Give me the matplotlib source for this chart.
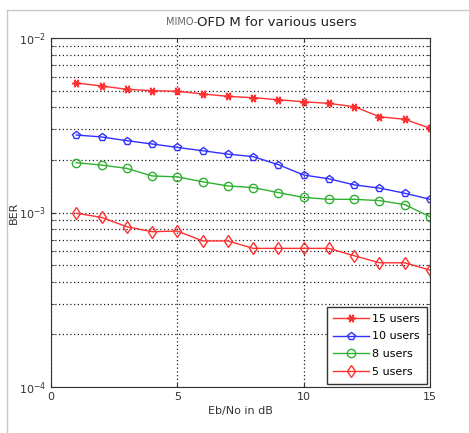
import matplotlib
matplotlib.use("Agg")
import matplotlib.pyplot as plt
from matplotlib.lines import Line2D
from matplotlib.ticker import LogLocator, NullFormatter

snr = [1, 2, 3, 4, 5, 6, 7, 8, 9, 10, 11, 12, 13, 14, 15]
ber_15 = [5.52e-3, 5.31e-3, 5.08e-3, 4.99e-3, 4.95e-3, 4.78e-3, 4.63e-3, 4.55e-3,
          4.43e-3, 4.31e-3, 4.22e-3, 4.04e-3, 3.54e-3, 3.42e-3, 3.04e-3]
ber_10 = [2.78e-3, 2.71e-3, 2.58e-3, 2.47e-3, 2.36e-3, 2.26e-3, 2.16e-3, 2.09e-3,
          1.88e-3, 1.64e-3, 1.56e-3, 1.44e-3, 1.38e-3, 1.29e-3, 1.19e-3]
ber_8 = [1.93e-3, 1.87e-3, 1.79e-3, 1.62e-3, 1.60e-3, 1.50e-3, 1.42e-3, 1.39e-3,
         1.30e-3, 1.22e-3, 1.19e-3, 1.19e-3, 1.17e-3, 1.11e-3, 0.946e-3]
ber_5 = [0.99e-3, 0.938e-3, 0.829e-3, 0.776e-3, 0.783e-3, 0.687e-3, 0.687e-3, 0.623e-3,
         0.623e-3, 0.623e-3, 0.623e-3, 0.565e-3, 0.515e-3, 0.515e-3, 0.468e-3]
labels = ["15 users", "10 users", "8 users", "5 users"]

fig = plt.figure(figsize=(4.69, 4.33), dpi=100)
ax = fig.add_axes([51 / 469, 1 - 387 / 433, 379 / 469, 349 / 433])

# frame around the picture (grey, left/top)
fig.add_artist(Line2D([7 / 469, 7 / 469], [0, 1 - 10 / 433], color="#c8c8c8", lw=1))
fig.add_artist(Line2D([7 / 469, 1], [1 - 10 / 433, 1 - 10 / 433], color="#c8c8c8", lw=1))

ax.semilogy(snr, ber_15, color="#ff3030", marker=(6, 2, 90), ms=6, mew=1.2, lw=1, label=labels[0])
ax.semilogy(snr, ber_10, color="#3030ff", marker="p", ms=5.5, mfc="none", mew=1, lw=1, label=labels[1])
ax.semilogy(snr, ber_8, color="#30b030", marker="o", ms=6, mfc="none", mew=1, lw=1, label=labels[2])
ax.semilogy(snr, ber_5, color="#ff3030", marker="d", ms=6, mfc="none", mew=1, lw=1, label=labels[3])

ax.set_xlim(0, 15)
ax.set_ylim(1e-4, 1e-2)
ax.set_xticks([0, 5, 10, 15])
ax.yaxis.set_major_locator(LogLocator(base=10, numticks=5))
ax.yaxis.set_minor_locator(LogLocator(base=10, subs=range(2, 10), numticks=20))
ax.yaxis.set_minor_formatter(NullFormatter())
ax.tick_params(direction="in", which="both", labelsize=8, colors="#333333",
               top=True, right=True, length=3)
ax.tick_params(which="minor", length=2)
ax.grid(True, which="both", axis="y", color="#222222", ls=(0, (1, 2)), lw=0.9)
ax.grid(True, which="major", axis="x", color="#222222", ls=(0, (1, 2)), lw=0.9)
for s in ax.spines.values():
    s.set_color("#333333")

ax.set_xlabel("Eb/No in dB", fontsize=8, color="#333333", labelpad=3)
ax.set_ylabel("BER", fontsize=8, color="#333333", labelpad=0)

fig.text(197 / 469, 1 - 22 / 433, "MIMO-", fontsize=7, color="#666666", ha="right", va="center")
fig.text(197 / 469, 1 - 22 / 433, "OFD M for various users", fontsize=9.5, color="#222222",
         ha="left", va="center")

leg = ax.legend(loc="lower right", fontsize=8, fancybox=False, framealpha=1,
                edgecolor="#333333", borderpad=0.6, labelspacing=0.7, handlelength=3.2,
                handletextpad=0.3, borderaxespad=0.3)
leg.get_frame().set_linewidth(1)

fig.savefig("out.png", dpi=100)
